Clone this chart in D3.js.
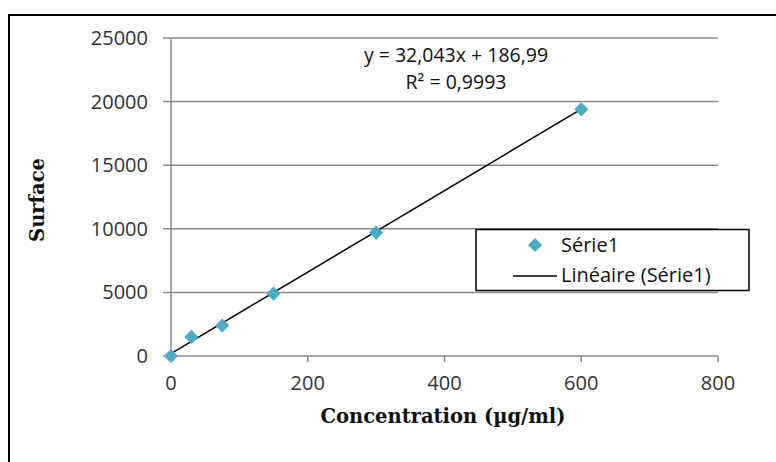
<!DOCTYPE html>
<html>
  <head>
    <meta charset="utf-8">
    <title>Surface vs concentration</title>
    <script src="https://d3js.org/d3.v7.min.js"></script>
    <style>
      body { margin: 0; background: #fff; }
      .tick-label { font-family: "Open Sans", sans-serif; font-size: 20px; fill: #333; }
      .axis-title { font-family: "DejaVu Serif", serif; font-weight: bold; font-size: 19.5px; fill: #111; }
      .legend-text { font-family: "Open Sans", sans-serif; font-size: 20px; fill: #111; }
      .eq { font-family: "Open Sans", sans-serif; font-size: 19.5px; fill: #111; }
    </style>
  </head>
  <body>
    <svg id="svg" width="776" height="462"></svg>
    <script>
      // data
      var concentration = [0, 30, 75, 150, 300, 600];
      var surface = [0, 1500, 2400, 4900, 9700, 19400];
      var xTicks = [0, 200, 400, 600, 800];
      var yTicks = [0, 5000, 10000, 15000, 20000, 25000];
      var slope = 32.043, intercept = 186.99;
      var eqLabels = ["y = 32,043x + 186,99", "R² = 0,9993"];
      var legendLabels = ["Série1", "Linéaire (Série1)"];

      var svg = d3.select("#svg");
      var grey = "#8a8a8a";
      var blue = "#4bacc6";

      // outer chart border
      svg.append("rect")
        .attr("x", 9).attr("y", 15)
        .attr("width", 800).attr("height", 500)
        .attr("fill", "none").attr("stroke", "#000").attr("stroke-width", 2);

      var x = d3.scaleLinear().domain([0, 800]).range([171, 718]);
      var y = d3.scaleLinear().domain([0, 25000]).range([356, 38]);

      // gridlines + y ticks
      svg.append("g").selectAll("line")
          .data(yTicks)
        .enter().append("line")
          .attr("x1", 163).attr("x2", x(800))
          .attr("y1", function(d) { return y(d); })
          .attr("y2", function(d) { return y(d); })
          .attr("stroke", grey).attr("stroke-width", 1.5);

      svg.append("line")
        .attr("x1", x(0)).attr("x2", x(0))
        .attr("y1", y(25000)).attr("y2", y(0))
        .attr("stroke", grey).attr("stroke-width", 1.5);

      svg.append("g").selectAll("line")
          .data(xTicks)
        .enter().append("line")
          .attr("x1", function(d) { return x(d); })
          .attr("x2", function(d) { return x(d); })
          .attr("y1", y(0)).attr("y2", y(0) + 6)
          .attr("stroke", grey).attr("stroke-width", 1.5);

      svg.append("g").selectAll("text")
          .data(yTicks)
        .enter().append("text")
          .classed("tick-label", true)
          .attr("x", 148)
          .attr("y", function(d) { return y(d) + 7; })
          .attr("text-anchor", "end")
          .text(function(d) { return d; });

      svg.append("g").selectAll("text")
          .data(xTicks)
        .enter().append("text")
          .classed("tick-label", true)
          .attr("x", function(d) { return x(d); })
          .attr("y", 390)
          .attr("text-anchor", "middle")
          .text(function(d) { return d; });

      // axis titles
      svg.append("text")
        .classed("axis-title", true)
        .attr("transform", "translate(44, 200) rotate(-90)")
        .attr("text-anchor", "middle")
        .text("Surface");

      svg.append("text")
        .classed("axis-title", true)
        .attr("x", 443).attr("y", 423)
        .attr("text-anchor", "middle")
        .text("Concentration (µg/ml)");

      // trendline over the data range
      var xExtent = d3.extent(concentration);
      svg.append("line")
        .attr("x1", x(xExtent[0])).attr("y1", y(slope * xExtent[0] + intercept))
        .attr("x2", x(xExtent[1])).attr("y2", y(slope * xExtent[1] + intercept))
        .attr("stroke", "#000").attr("stroke-width", 1.5);

      // points
      var diamond = d3.symbol().type(d3.symbolSquare).size(100);
      svg.append("g").selectAll("path")
          .data(concentration)
        .enter().append("path")
          .attr("d", diamond)
          .attr("transform", function(d, i) { return "translate(" + x(d) + "," + y(surface[i]) + ") rotate(45)"; })
          .attr("fill", blue);

      // equation
      svg.append("g").selectAll("text")
          .data(eqLabels)
        .enter().append("text")
          .classed("eq", true)
          .attr("x", 456)
          .attr("y", function(d, i) { return 62 + i * 27; })
          .attr("text-anchor", "middle")
          .text(function(d) { return d; });

      // legend
      var legend = svg.append("g");
      legend.append("rect")
        .attr("x", 476).attr("y", 229.5)
        .attr("width", 273).attr("height", 61)
        .attr("fill", "#fff").attr("stroke", "#000").attr("stroke-width", 1.5);
      legend.append("path")
        .attr("d", diamond)
        .attr("transform", "translate(535,245) rotate(45)")
        .attr("fill", blue);
      legend.append("line")
        .attr("x1", 513).attr("x2", 557)
        .attr("y1", 276).attr("y2", 276)
        .attr("stroke", "#000").attr("stroke-width", 1.5);
      legend.selectAll("text.legend-text")
          .data(legendLabels)
        .enter().append("text")
          .classed("legend-text", true)
          .attr("x", 561)
          .attr("y", function(d, i) { return 252 + i * 30; })
          .text(function(d) { return d; });
    </script>
  </body>
</html>
